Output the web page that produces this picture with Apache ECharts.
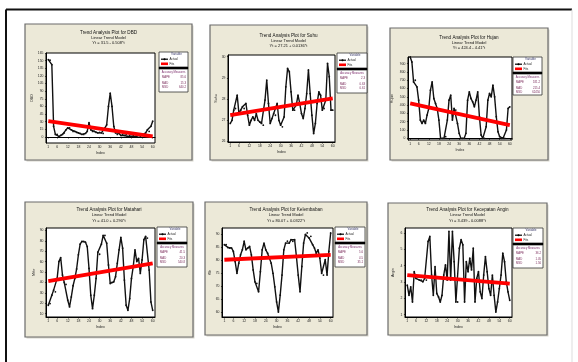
<!DOCTYPE html>
<html><head><meta charset="utf-8">
<script src="https://cdn.jsdelivr.net/npm/echarts@6/dist/echarts.min.js"></script>
<style>html,body{margin:0;padding:0;background:#fff}#c{width:578px;height:362px}</style>
</head><body><div id="c"></div>
<script>
// ---------- data ----------
const indexTicks = [1, 6, 12, 18, 24, 30, 36, 42, 48, 54, 60];
const titles = ["Trend Analysis Plot for DBD", "Trend Analysis Plot for Suhu", "Trend Analysis Plot for Hujan",
  "Trend Analysis Plot for Matahari", "Trend Analysis Plot for Kelembaban", "Trend Analysis Plot for Kecepatan Angin"];
const modelLine = "Linear Trend Model";
const equations = ["Yt = 31.5 - 0.508*t", "Yt = 27.21 + 0.0136*t", "Yt = 424.4 - 4.41*t",
  "Yt = 41.0 + 0.290*t", "Yt = 80.07 + 0.0322*t", "Yt = 3.439 - 0.0088*t"];
const yNames = ["DBD", "Suhu", "Hujan", "Mthr", "Klb", "Angin"];
const accNames = ["MAPE", "MAD", "MSD"];
const accValues = [["85.6", "15.3", "640.2"], ["2.3", "0.63", "0.61"], ["181.2", "215.4", "62450"],
  ["41.5", "20.3", "540.8"], ["5.6", "4.5", "35.1"], ["36.2", "1.05", "1.56"]];

const dbd = [152,151,142,21,5,5,1,3,5,8,14,18,18,14,11,11,9,8,7,5,5,7,11,28,14,11,11,9,8,9,8,7,18,24,60,86,60,21,8,5,7,3,5,3,5,1,3,1,3,1,1,3,1,3,5,8,14,11,21,31];
const suhu = [26.83,26.98,27.46,27.54,28.17,27.30,27.46,27.62,27.54,27.78,27.22,26.75,26.98,27.14,26.98,27.30,26.98,26.90,26.83,26.75,27.94,28.89,27.78,26.83,27.06,27.30,27.22,27.78,26.98,26.75,26.67,27.14,28.57,29.44,29.29,28.33,27.46,27.46,27.70,28.17,27.78,27.30,27.06,27.54,28.25,29.37,28.25,27.22,26.35,26.83,27.78,28.33,28.17,27.46,27.54,27.94,29.68,29.05,27.46,27.46];
const hujan = [980,920,680,700,620,460,220,180,220,180,280,360,580,680,480,420,360,220,0,0,0,20,220,460,520,220,360,340,180,60,0,0,0,60,460,560,480,440,380,460,560,260,40,0,0,140,460,540,500,640,500,260,80,20,0,0,0,100,360,380];
const matahari = [18.1,19.7,27.7,32.6,31.0,43.9,60.0,63.9,47.1,40.0,38.1,22.9,16.5,26.1,36.8,43.9,52.9,66.5,76.8,79.4,79.4,78.7,74.5,53.5,27.7,14.8,27.7,43.9,69.0,67.1,76.8,85.2,85.2,77.7,56.8,39.0,40.0,40.6,45.5,58.4,71.3,83.2,72.9,42.3,18.1,13.2,24.5,43.9,55.2,71.3,60.0,63.2,48.7,61.6,81.0,84.2,82.6,51.9,21.3,13.2];
const kelembaban = [85.9,85.9,84.8,84.6,84.6,83.3,79.4,74.9,78.8,82.0,83.9,87.2,83.9,84.6,85.2,82.0,76.2,71.6,71.0,67.8,75.5,83.9,86.5,83.9,82.6,80.7,78.8,74.9,69.7,63.9,60.0,66.5,74.2,83.9,86.5,87.2,86.5,87.8,87.2,87.8,81.3,74.2,67.8,77.5,86.5,89.8,90.4,88.5,89.1,85.9,84.6,82.6,83.9,80.7,74.9,74.2,80.1,74.2,83.3,90.4];
const angin = [2.81,2.19,2.71,1.78,3.63,3.22,3.33,3.12,3.12,3.02,3.22,3.12,5.49,5.79,3.43,2.19,3.94,2.30,2.09,1.78,2.19,3.43,4.05,3.12,6.10,3.12,6.10,4.25,1.78,1.78,5.07,5.59,5.28,1.78,4.25,3.63,4.46,3.74,5.07,1.78,3.22,3.63,2.40,1.99,3.43,4.56,3.63,2.60,2.19,3.43,2.19,1.16,1.78,2.60,3.43,4.77,4.25,3.02,2.40,1.88];

// fitted trend values at t=1 and t=60
const fitDbd = [31, 1];
const fitSuhu = [27.22, 28.02];
const fitHujan = [420, 160];
const fitMatahari = [41.3, 58.4];
const fitKelembaban = [80.1, 82.0];
const fitAngin = [3.43, 2.91];

const yTicksDbd = [0,15,30,45,60,75,90,105,120,135,150,165];
const yTicksSuhu = [26,27,28,29,30];
const yTicksHujan = [0,100,200,300,400,500,600,700,800,900];
const yTicksMatahari = [10,20,30,40,50,60,70,80,90];
const yTicksKelembaban = [60,65,70,75,80,85,90];
const yTicksAngin = [1,2,3,4,5,6];
const yRanges = [[-11.8,165],[25.95,30.08],[-20,980],[6.8,92.3],[58.1,92.3],[0.86,6.31]];

// ---------- layout (positions / sizes only) ----------
const layout = [
  {box:[25,24,167,136], plot:[46,53,109,90], leg:[159,52,29,40], ty:[33,37.5,43]},
  {box:[210,25,157,135], plot:[228,55,107,87], leg:[337,53,30,40], ty:[36,40.5,46]},
  {box:[390,28,158,132], plot:[408,57,104,83], leg:[513,57,29,38], ty:[38,42.5,48]},
  {box:[25,202,168,135], plot:[46,228,109,89], leg:[157,227,30,40], ty:[210,215,220.5]},
  {box:[205,202,162,133], plot:[222,228,111,89], leg:[335,227,30,40], ty:[210,215,220.5]},
  {box:[388,203,159,132], plot:[405,228,107,89], leg:[513,228,30,40], ty:[210,215,220.5]}
];

const seriesVals = [dbd, suhu, hujan, matahari, kelembaban, angin];
const fits = [fitDbd, fitSuhu, fitHujan, fitMatahari, fitKelembaban, fitAngin];
const yTicks = [yTicksDbd, yTicksSuhu, yTicksHujan, yTicksMatahari, yTicksKelembaban, yTicksAngin];

const FONT = 'Arial, "Liberation Sans", sans-serif';
const grids = [], xAxes = [], yAxes = [], series = [], graphics = [];

// outer frame
graphics.push({type:'line', shape:{x1:6, y1:9.5, x2:572, y2:9.5}, style:{stroke:'#111', lineWidth:2}, z:-5});
graphics.push({type:'line', shape:{x1:6, y1:9.5, x2:6, y2:362}, style:{stroke:'#111', lineWidth:2}, z:-5});
graphics.push({type:'line', shape:{x1:572, y1:9.5, x2:572, y2:362}, style:{stroke:'#ddd', lineWidth:1}, z:-5});

layout.forEach((L, k) => {
  const [bx, by, bw, bh] = L.box;
  graphics.push({type:'rect', shape:{x:bx+1.5, y:by+1.5, width:bw, height:bh}, style:{fill:'#d8d6cc'}, z:-4});
  graphics.push({type:'rect', shape:{x:bx, y:by, width:bw, height:bh}, style:{fill:'#ECE9D8', stroke:'#6b6b6b', lineWidth:1.2}, z:-3});
  const cx = bx + bw / 2;
  graphics.push({type:'text', style:{text:titles[k], x:cx, y:L.ty[0], textAlign:'center', textVerticalAlign:'middle', fontSize:4.6, fontFamily:FONT, fill:'#111'}, z:5});
  graphics.push({type:'text', style:{text:modelLine, x:cx, y:L.ty[1], textAlign:'center', textVerticalAlign:'middle', fontSize:4, fontFamily:FONT, fill:'#111'}, z:5});
  graphics.push({type:'text', style:{text:equations[k], x:cx, y:L.ty[2], textAlign:'center', textVerticalAlign:'middle', fontSize:4, fontFamily:FONT, fill:'#111'}, z:5});

  // legend box
  const [lx, ly, lw, lh] = L.leg;
  graphics.push({type:'rect', shape:{x:lx, y:ly, width:lw, height:15}, style:{fill:'#fff', stroke:'#333', lineWidth:0.8}, z:5});
  graphics.push({type:'text', style:{text:'Variable', x:lx+lw/2+3, y:ly+2.6, textAlign:'center', textVerticalAlign:'middle', fontSize:3, fontFamily:FONT, fill:'#3b3b6b'}, z:6});
  graphics.push({type:'line', shape:{x1:lx+2, y1:ly+7.2, x2:lx+9, y2:ly+7.2}, style:{stroke:'#000', lineWidth:1.2}, z:6});
  graphics.push({type:'circle', shape:{cx:lx+5.5, cy:ly+7.2, r:1}, style:{fill:'#000'}, z:6});
  graphics.push({type:'text', style:{text:'Actual', x:lx+10.5, y:ly+7.2, textVerticalAlign:'middle', fontSize:3, fontFamily:FONT, fill:'#222'}, z:6});
  graphics.push({type:'line', shape:{x1:lx+2, y1:ly+11.8, x2:lx+9, y2:ly+11.8}, style:{stroke:'#f00', lineWidth:2.6}, z:6});
  graphics.push({type:'text', style:{text:'Fits', x:lx+10.5, y:ly+11.8, textVerticalAlign:'middle', fontSize:3, fontFamily:FONT, fill:'#222'}, z:6});
  graphics.push({type:'rect', shape:{x:lx-0.4, y:ly+15, width:lw+0.8, height:2}, style:{fill:'#000'}, z:6});
  graphics.push({type:'rect', shape:{x:lx, y:ly+17, width:lw, height:lh-17}, style:{fill:'#fff', stroke:'#333', lineWidth:0.8}, z:5});
  graphics.push({type:'text', style:{text:'Accuracy Measures', x:lx+lw/2, y:ly+20, textAlign:'center', textVerticalAlign:'middle', fontSize:2.7, fontFamily:FONT, fill:'#7a2a6a'}, z:6});
  const rowY = [25, 31, 35.5];
  accNames.forEach((nm, r) => {
    graphics.push({type:'text', style:{text:nm, x:lx+3, y:ly+rowY[r], textVerticalAlign:'middle', fontSize:2.8, fontFamily:FONT, fill:'#7a2a5a'}, z:6});
    graphics.push({type:'text', style:{text:accValues[k][r], x:lx+lw-2, y:ly+rowY[r], textAlign:'right', textVerticalAlign:'middle', fontSize:2.8, fontFamily:FONT, fill:'#7a2a5a'}, z:6});
  });

  const [px, py, pw, ph] = L.plot;
  grids.push({left:px, top:py, width:pw, height:ph, show:true, backgroundColor:'#fff', borderColor:'#000', borderWidth:1, containLabel:false});
  xAxes.push({
    type:'value', gridIndex:k, min:-0.3, max:61.3,
    name:'Index', nameLocation:'middle', nameGap:8,
    nameTextStyle:{fontSize:3.6, fontFamily:FONT, color:'#222'},
    axisLine:{show:true, lineStyle:{color:'#000', width:1}},
    axisTick:{show:true, length:1.6, customValues:indexTicks, lineStyle:{color:'#000', width:0.6}},
    axisLabel:{show:true, customValues:indexTicks, fontSize:3.4, margin:2.5, fontFamily:FONT, color:'#222'},
    splitLine:{show:false}
  });
  yAxes.push({
    type:'value', gridIndex:k, min:yRanges[k][0], max:yRanges[k][1],
    name:yNames[k], nameLocation:'middle', nameGap: (k===2?14:10), nameRotate:90,
    nameTextStyle:{fontSize:3.6, fontFamily:FONT, color:'#222'},
    axisLine:{show:true, lineStyle:{color:'#000', width:1}},
    axisTick:{show:true, length:1.6, customValues:yTicks[k], lineStyle:{color:'#000', width:0.6}},
    axisLabel:{show:true, customValues:yTicks[k], fontSize:3.4, margin:2.5, fontFamily:FONT, color:'#222'},
    splitLine:{show:false}
  });
  series.push({
    type:'line', xAxisIndex:k, yAxisIndex:k, name:'Actual',
    data: seriesVals[k].map((v, i) => [i + 1, v]),
    symbol:'circle', symbolSize:1.8, showSymbol:true,
    itemStyle:{color:'#111'}, lineStyle:{color:'#111', width:1.4},
    silent:true, animation:false, z:3
  });
  series.push({
    type:'line', xAxisIndex:k, yAxisIndex:k, name:'Fits',
    data: [[1, fits[k][0]], [60, fits[k][1]]],
    symbol:'none', lineStyle:{color:'#ff0000', width:3.8},
    silent:true, animation:false, z:4
  });
});

const chart = echarts.init(document.getElementById('c'), null, {renderer:'canvas', width:578, height:362});
chart.setOption({
  animation:false,
  backgroundColor:'#fff',
  grid:grids, xAxis:xAxes, yAxis:yAxes, series:series,
  graphic:{elements:graphics}
});
</script>
</body></html>
